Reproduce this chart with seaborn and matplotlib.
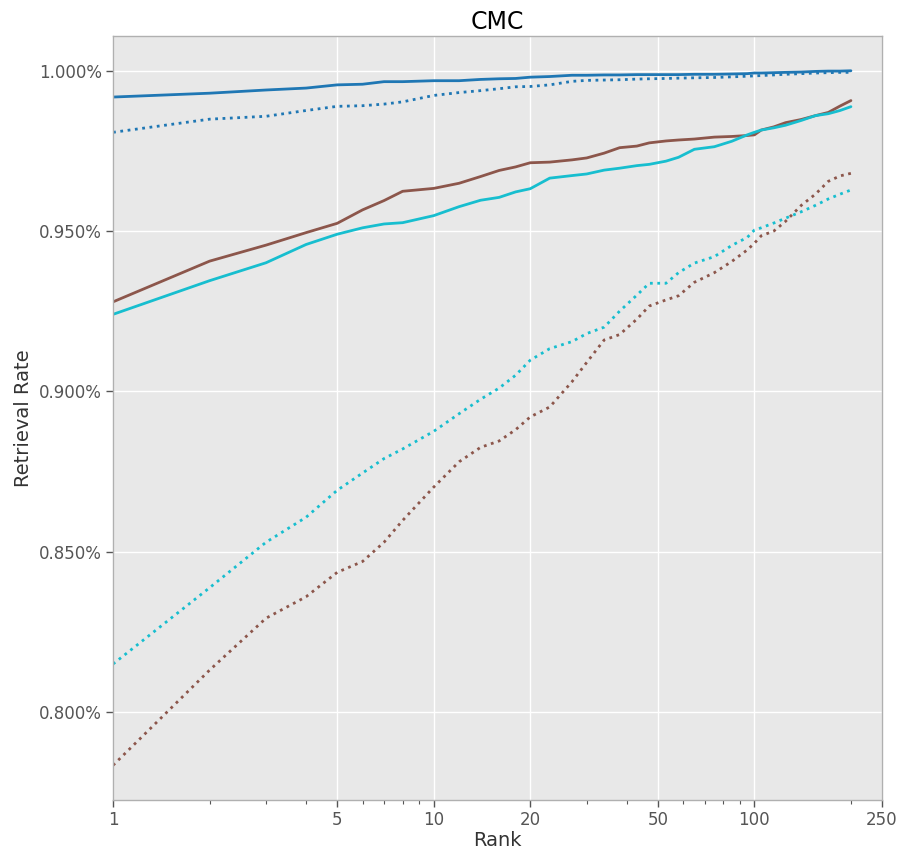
import numpy as np
import pandas as pd
import matplotlib
matplotlib.use("Agg")
import matplotlib.pyplot as plt
import seaborn as sns
from matplotlib.ticker import FuncFormatter, FixedLocator, NullFormatter, LogLocator

ranks = [1, 2, 3, 4, 5, 6, 7, 8, 10, 12, 14, 16, 18, 20, 23, 27, 30, 34, 38, 43, 47, 53, 58,
         65, 75, 85, 95, 100, 105, 115, 125, 140, 155, 170, 185, 200]

blue_solid = [0.9918, 0.9930, 0.9940, 0.9946, 0.9956, 0.9958, 0.9966, 0.9966, 0.9969, 0.9969,
              0.9973, 0.9975, 0.9976, 0.9980, 0.9982, 0.9986, 0.9986, 0.9987, 0.9987, 0.9988,
              0.9988, 0.9988, 0.9988, 0.9989, 0.9989, 0.9990, 0.9991, 0.9993, 0.9993, 0.9994,
              0.9995, 0.9996, 0.9998, 0.9999, 0.9999, 1.0000]
blue_dotted = [0.9808, 0.9849, 0.9858, 0.9876, 0.9889, 0.9891, 0.9896, 0.9903, 0.9923, 0.9932,
               0.9938, 0.9944, 0.9950, 0.9951, 0.9956, 0.9967, 0.9970, 0.9971, 0.9972, 0.9974,
               0.9975, 0.9976, 0.9977, 0.9978, 0.9979, 0.9981, 0.9983, 0.9984, 0.9985, 0.9987,
               0.9989, 0.9991, 0.9993, 0.9994, 0.9995, 0.9995]
brown_solid = [0.9279, 0.9406, 0.9456, 0.9495, 0.9524, 0.9566, 0.9595, 0.9624, 0.9633, 0.9649,
               0.9670, 0.9689, 0.9700, 0.9713, 0.9715, 0.9722, 0.9728, 0.9743, 0.9760, 0.9765,
               0.9775, 0.9781, 0.9784, 0.9787, 0.9793, 0.9795, 0.9798, 0.9800, 0.9815, 0.9825,
               0.9838, 0.9848, 0.9860, 0.9870, 0.9890, 0.9907]
cyan_solid = [0.9240, 0.9345, 0.9401, 0.9458, 0.9490, 0.9510, 0.9522, 0.9526, 0.9548, 0.9576,
              0.9596, 0.9605, 0.9622, 0.9632, 0.9665, 0.9673, 0.9678, 0.9690, 0.9696, 0.9704,
              0.9708, 0.9718, 0.9730, 0.9755, 0.9763, 0.9780, 0.9800, 0.9808, 0.9815, 0.9822,
              0.9830, 0.9845, 0.9860, 0.9866, 0.9876, 0.9888]
brown_dotted = [0.7833, 0.8130, 0.8292, 0.8359, 0.8435, 0.8469, 0.8529, 0.8597, 0.8701, 0.8780,
                0.8825, 0.8845, 0.8880, 0.8920, 0.8951, 0.9030, 0.9090, 0.9160, 0.9177, 0.9225,
                0.9266, 0.9285, 0.9298, 0.9340, 0.9370, 0.9405, 0.9441, 0.9462, 0.9485, 0.9500,
                0.9530, 0.9580, 0.9615, 0.9655, 0.9672, 0.9680]
cyan_dotted = [0.8149, 0.8387, 0.8529, 0.8607, 0.8691, 0.8745, 0.8790, 0.8820, 0.8875, 0.8930,
               0.8975, 0.9010, 0.9050, 0.9097, 0.9133, 0.9155, 0.9180, 0.9200, 0.9250, 0.9300,
               0.9337, 0.9337, 0.9370, 0.9400, 0.9420, 0.9455, 0.9480, 0.9503, 0.9510, 0.9525,
               0.9540, 0.9560, 0.9580, 0.9600, 0.9615, 0.9628]

x_ticks = [1, 5, 10, 20, 50, 100, 250]
y_ticks = [0.80, 0.85, 0.90, 0.95, 1.00]

series = [
    (blue_solid, "#1f77b4", "-"),
    (blue_dotted, "#1f77b4", ":"),
    (brown_solid, "#8c564b", "-"),
    (brown_dotted, "#8c564b", ":"),
    (cyan_solid, "#17becf", "-"),
    (cyan_dotted, "#17becf", ":"),
]

sns.set_theme(style="darkgrid", rc={
    "axes.facecolor": "#E8E8E8",
    "axes.edgecolor": "#B0B0B0",
    "axes.linewidth": 1.0,
    "grid.color": "white",
    "grid.linewidth": 1.0,
    "xtick.bottom": True,
    "ytick.left": True,
    "xtick.color": "#555555",
    "ytick.color": "#555555",
    "axes.labelcolor": "#333333",
})
plt.rcParams["font.family"] = ["DejaVu Sans"]

fig = plt.figure(figsize=(9, 8.52), dpi=100)
ax = fig.add_axes([0.1256, 0.061, 0.8544, 0.8967])

for vals, col, ls in series:
    sns.lineplot(x=ranks, y=vals, color=col, linestyle=ls, linewidth=2, ax=ax)

ax.set_xscale("log")
ax.set_xlim(1, 250)
ax.xaxis.set_major_locator(FixedLocator(x_ticks))
ax.xaxis.set_major_formatter(FuncFormatter(lambda v, p: f"{int(round(v))}"))
ax.xaxis.set_minor_locator(LogLocator(base=10, subs=np.arange(2, 10)))
ax.xaxis.set_minor_formatter(NullFormatter())
ax.yaxis.set_major_locator(FixedLocator(y_ticks))
ax.yaxis.set_major_formatter(FuncFormatter(lambda v, p: f"{v:.3f}%"))
ax.tick_params(axis="both", which="major", labelsize=12, length=5, width=1, color="#555555", pad=3)
ax.tick_params(axis="x", which="minor", length=3, width=0.8, color="#555555")
ax.grid(True, which="major", color="white", linewidth=1.0)
ax.grid(False, which="minor")

ax.set_title("CMC", fontsize=17, color="black", pad=5)
ax.set_xlabel("Rank", fontsize=14, labelpad=1)
ax.set_ylabel("Retrieval Rate", fontsize=14)

fig.savefig("out.png", dpi=100)
